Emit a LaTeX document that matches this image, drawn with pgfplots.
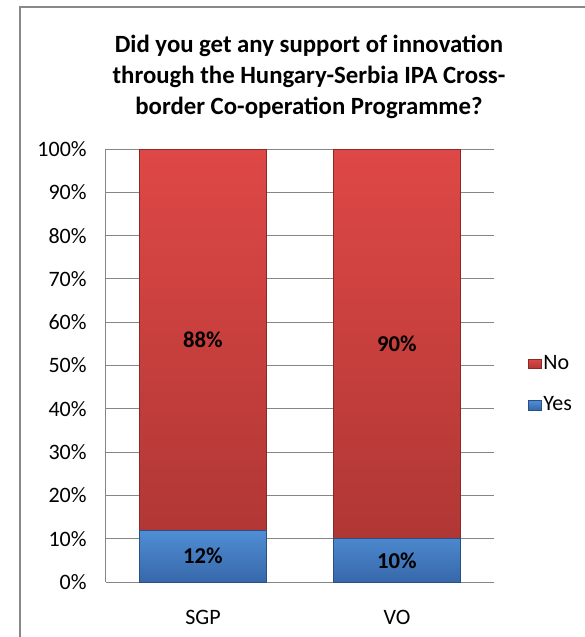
\documentclass[border=0pt]{standalone}
\usepackage{fontspec}
\setmainfont{Carlito}
\usepackage{pgfplots}
\pgfplotsset{compat=1.18}

\definecolor{noTop}{RGB}{222,72,70}
\definecolor{noBot}{RGB}{176,55,53}
\definecolor{noEdge}{RGB}{140,40,38}
\definecolor{yesTop}{RGB}{80,142,212}
\definecolor{yesBot}{RGB}{55,104,170}
\definecolor{yesEdge}{RGB}{40,80,135}
\definecolor{gridgray}{RGB}{134,134,134}
\definecolor{framegray}{RGB}{136,136,136}

\begin{document}
\begin{tikzpicture}[x=0.75pt,y=0.75pt]
% page = 585 x 637 px, plot area lower left at (106,582) px
\useasboundingbox (-106,-55) rectangle (479,582);
\draw[framegray, line width=1.5pt] (-85.5,-80) -- (-85.5,575) -- (520,575);

\node[align=center, font=\fontsize{18.6}{23.5}\selectfont\bfseries, anchor=base]
  at (203,467) {Did you get any support of innovation\\through the Hungary-Serbia IPA Cross-\\border Co-operation Programme?};

\begin{axis}[
    at={(0,0)}, anchor=south west,
    scale only axis,
    width=291pt, height=324.75pt,
    ybar stacked,
    bar width=95pt,
    xmin=-0.5, xmax=1.5,
    ymin=0, ymax=100,
    xtick={0,1},
    xticklabels={SGP,VO},
    ytick={0,10,...,100},
    yticklabel={\pgfmathprintnumber{\tick}\%},
    /pgf/number format/assume math mode=true,
    major tick length=0pt,
    axis x line*=bottom,
    axis y line*=left,
    axis line style={gridgray, line width=0.75pt, -},
    ymajorgrids,
    grid style={gridgray, line width=0.75pt},
    tick label style={font=\fontsize{16.5}{19}\selectfont},
    yticklabel style={xshift=-11pt},
    xticklabel style={yshift=-18pt},
    legend style={at={(1.077,0.456)}, anchor=west, draw=none, fill=none,
      font=\fontsize{16.5}{19}\selectfont, row sep=14.5pt,
      nodes={inner sep=1pt, text height=11.5pt, text depth=3pt},
      cells={anchor=west}},
    legend image code/.code={\path[#1] (0pt,-3.6pt) rectangle (9.8pt,3.6pt);},
    reverse legend,
    point meta=rawy,
    nodes near coords={\pgfmathprintnumber{\pgfplotspointmeta}\%},
    every node near coord/.append style={anchor=center,
      font=\fontsize{17}{20}\selectfont\bfseries,
      /pgf/number format/assume math mode=true},
  ]
  \addplot[draw=yesEdge, line width=0.6pt, top color=yesTop, bottom color=yesBot]
    coordinates {(0,12) (1,10)};
  \addplot[draw=noEdge, line width=0.6pt, top color=noTop, bottom color=noBot]
    coordinates {(0,88) (1,90)};
  \legend{Yes,No}
\end{axis}
\end{tikzpicture}
\end{document}
